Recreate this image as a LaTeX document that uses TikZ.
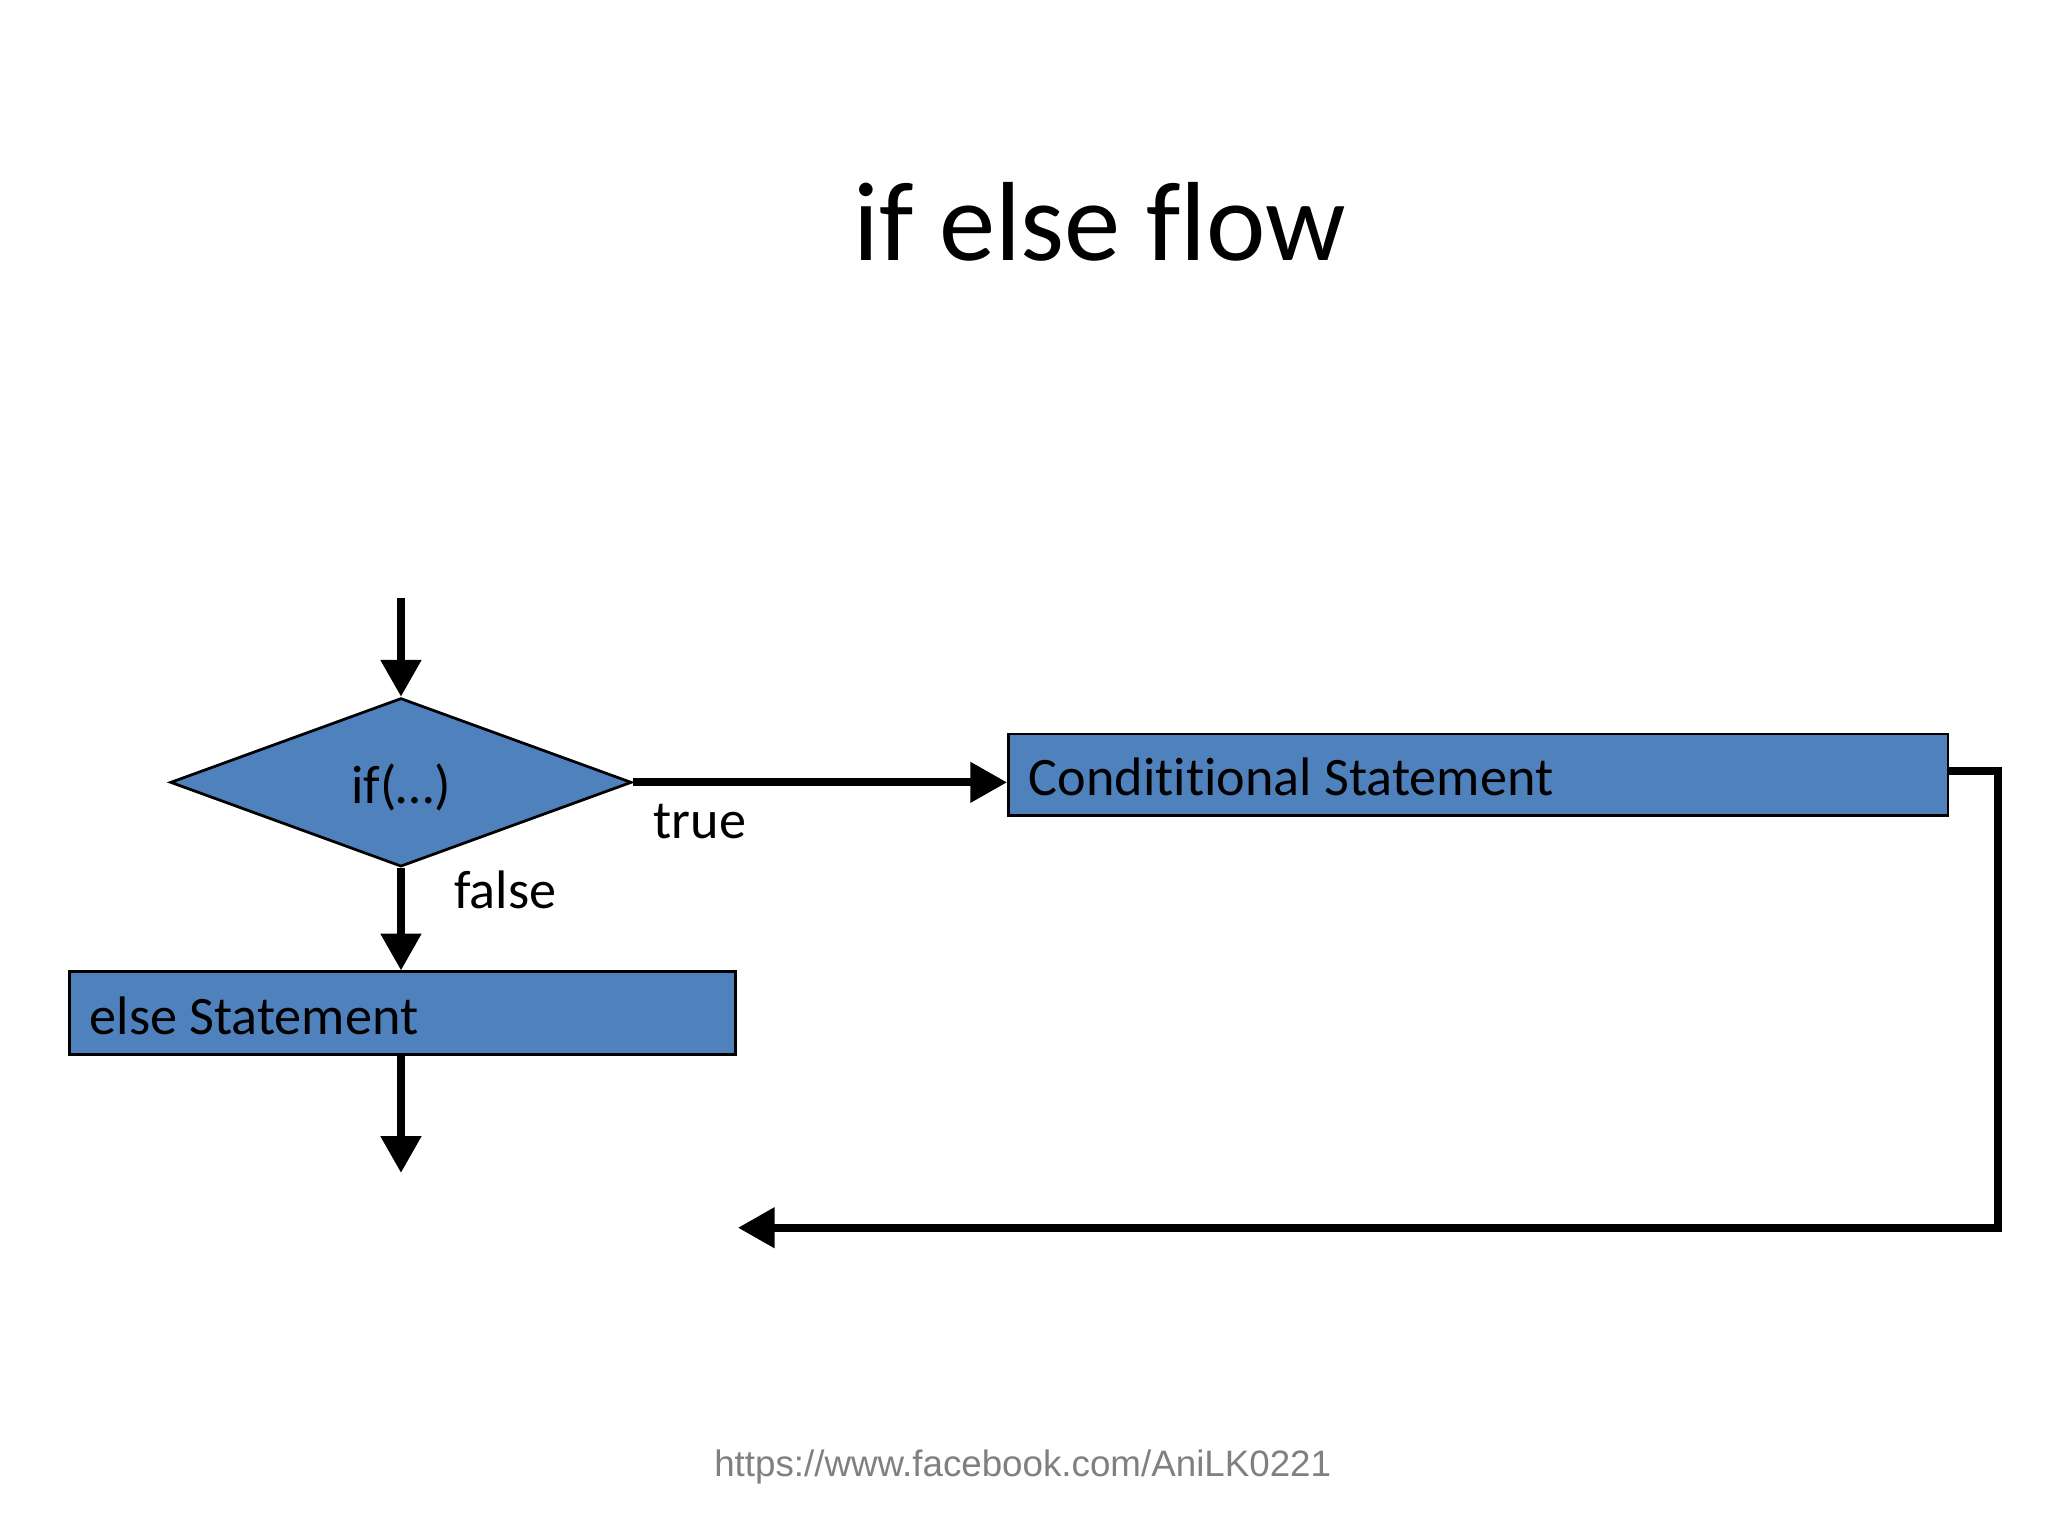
\documentclass[tikz,border=0pt]{standalone}
\usepackage{fontspec}
\setmainfont{Carlito}[Ligatures={NoCommon}]
\newfontfamily\urlfont{Liberation Sans}
\usetikzlibrary{shapes.geometric,arrows.meta,positioning}
\definecolor{boxblue}{HTML}{4F81BD}
\begin{document}
\begin{tikzpicture}[x=0.01cm,y=-0.01cm, line join=miter,
  box/.style={draw=black, fill=boxblue, line width=0.6pt, inner sep=0pt, anchor=north west},
  flow/.style={line width=1.7pt, -{Triangle[width=8.5pt,length=8pt]}},
  lbl/.style={font=\fontsize{11.8pt}{14pt}\selectfont, inner sep=0pt}]

	\useasboundingbox (0,0) rectangle (1568,1176);

	\node[font=\fontsize{24.5pt}{30pt}\selectfont] (title) at (842,170) {if else flow};

	\node[draw=black, fill=boxblue, line width=0.6pt, shape=diamond, inner sep=0pt,
	      aspect=2.74, minimum width=3.53cm, minimum height=1.29cm] (cond) at (307,599) {};
	\node[lbl] (condtext) at (307,603) {if(\dots)};

	\node[box, minimum width=7.19cm, minimum height=0.62cm] (stmt) at (771,561) {};
	\node[lbl, anchor=west] (stmttext) at (787,595) {Condititional Statement};

	\node[box, minimum width=5.10cm, minimum height=0.63cm] (else) at (52,743) {};
	\node[lbl, anchor=west] (elsetext) at (68,778) {else Statement};

	\coordinate (in) at (307,458);
	\coordinate (out) at (307,898);
	\coordinate (back) at (565,940);
	\coordinate (bend) at (1530,590);

	% connectors
	\draw[flow] (in) -- (cond.north);
	\draw[flow] (cond.east) -- (cond.east -| stmt.west);
	\draw[flow] (cond.south) -- (cond.south |- else.north);
	\draw[flow] (else.south -| out) -- (out);
	\draw[flow] (bend -| stmt.east) -- (bend) |- (back);

	\node[lbl] (true) at (536,629) {true};
	\node[lbl] (false) at (387,681) {false};

	\node[font=\urlfont\fontsize{8pt}{10pt}\selectfont, text=gray] (url) at (783,1123) {https://www.facebook.com/AniLK0221};
\end{tikzpicture}
\end{document}
